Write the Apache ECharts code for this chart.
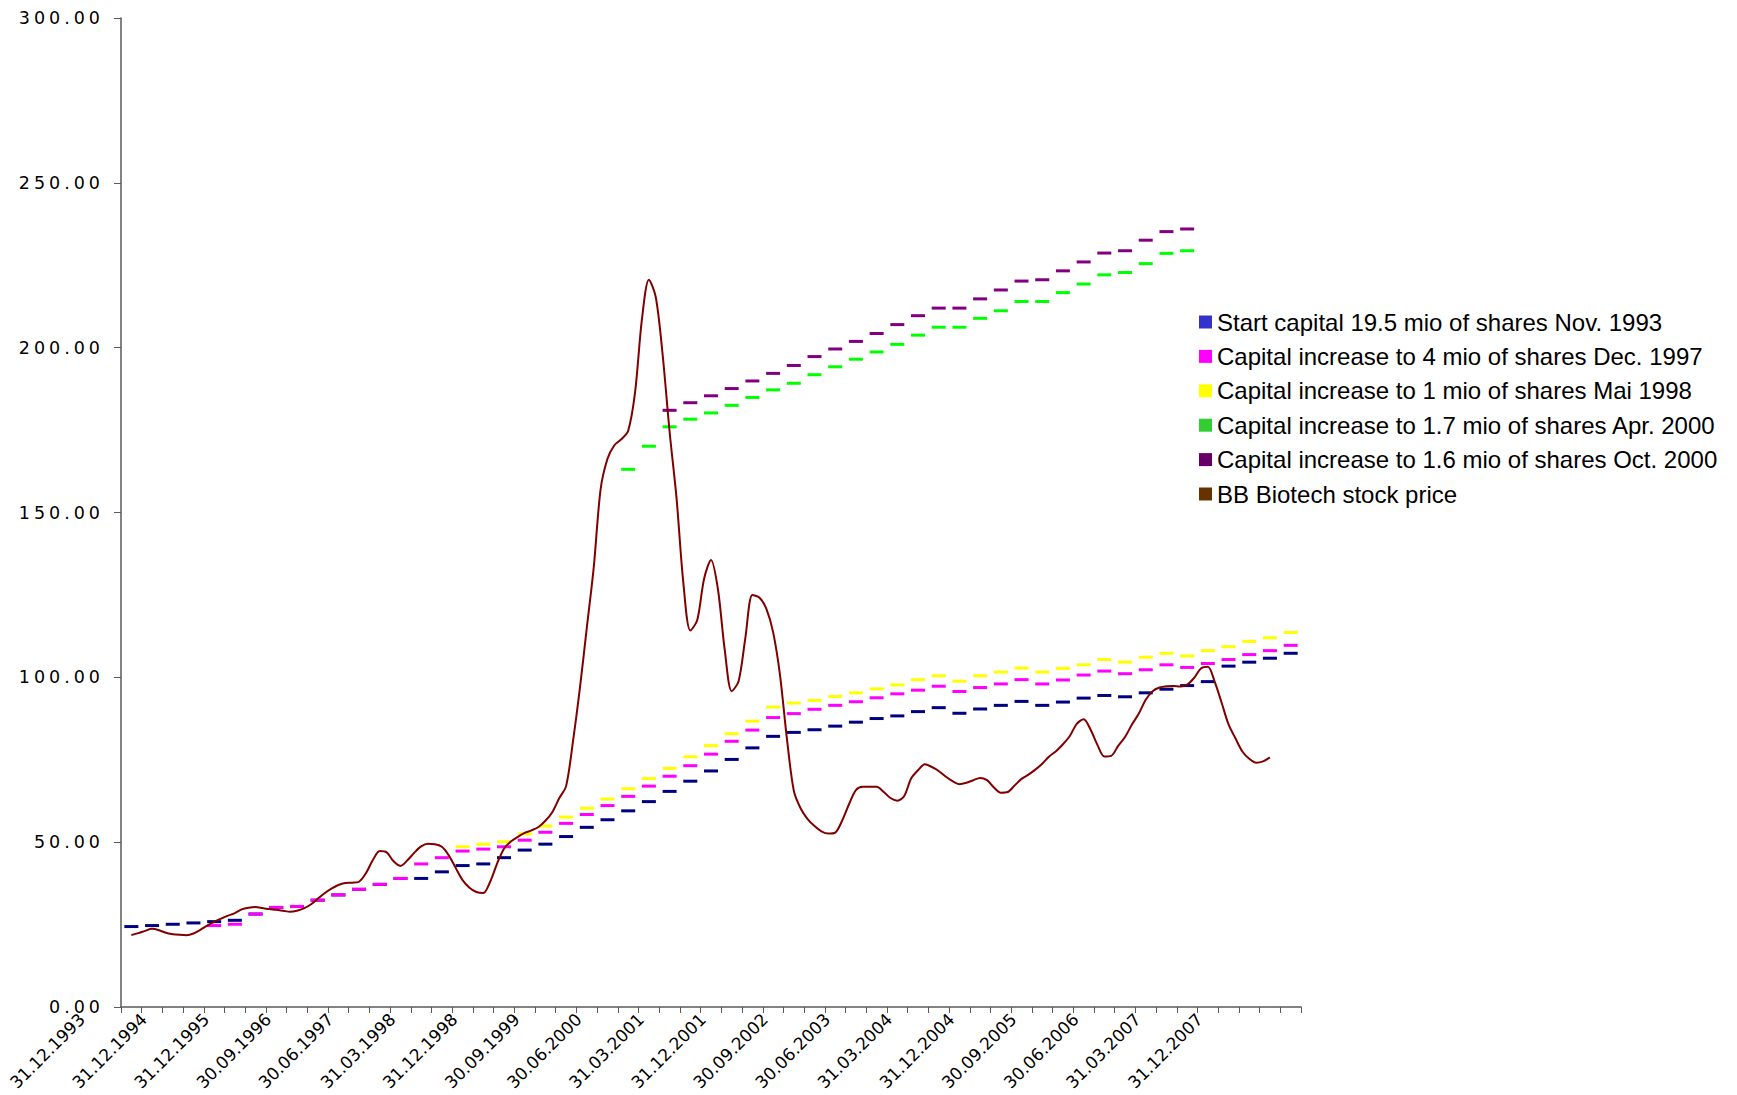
<!DOCTYPE html>
<html>
<head>
<meta charset="utf-8">
<title>BB Biotech</title>
<script src="https://cdn.jsdelivr.net/npm/echarts@6/dist/echarts.min.js"></script>
<style>
  html, body { margin: 0; padding: 0; background: #ffffff; overflow: hidden; }
  #chart { width: 1737px; height: 1095px; }
  /* value-axis numbers are set wide, like the rest of the axis text */
  #chart svg text[style*="17.5px"] { letter-spacing: 4px; }
</style>
</head>
<body>
<div id="chart"></div>
<script>
// Reporting dates (category axis)
const DATES = [
  '31.12.1993','30.04.1994','31.08.1994','31.12.1994','30.04.1995','31.08.1995',
  '31.12.1995','31.03.1996','30.06.1996','30.09.1996','31.12.1996','31.03.1997',
  '30.06.1997','30.09.1997','31.12.1997','31.03.1998','30.06.1998','30.09.1998',
  '31.12.1998','31.03.1999','30.06.1999','30.09.1999','31.12.1999','31.03.2000',
  '30.06.2000','30.09.2000','31.12.2000','31.03.2001','30.06.2001','30.09.2001',
  '31.12.2001','31.03.2002','30.06.2002','30.09.2002','31.12.2002','31.03.2003',
  '30.06.2003','30.09.2003','31.12.2003','31.03.2004','30.06.2004','30.09.2004',
  '31.12.2004','31.03.2005','30.06.2005','30.09.2005','31.12.2005','31.03.2006',
  '30.06.2006','30.09.2006','31.12.2006','31.03.2007','30.06.2007','30.09.2007',
  '31.12.2007','31.03.2008','30.06.2008'
];

const SERIES_NAMES = [
  'Start capital 19.5 mio of shares Nov. 1993',
  'Capital increase to 4 mio of shares Dec. 1997',
  'Capital increase to 1 mio of shares Mai 1998',
  'Capital increase to 1.7 mio of shares Apr. 2000',
  'Capital increase to 1.6 mio of shares Oct. 2000',
  'BB Biotech stock price'
];

// Value per share for each capital tranche, one value per reporting date
const START_CAPITAL = [
  24.4, 24.7, 25.1, 25.5, 25.9, 26.3, 28.2, 30.2, 30.5, 32.4,
  34.0, 35.7, 37.2, 39.0, 39.0, 41.0, 42.9, 43.4, 45.3, 47.6,
  49.4, 51.7, 54.5, 56.8, 59.5, 62.3, 65.4, 68.5, 71.6, 75.1,
  78.6, 82.1, 83.3, 84.1, 85.2, 86.4, 87.5, 88.3, 89.6, 90.8,
  89.1, 90.4, 91.5, 92.7, 91.5, 92.5, 93.7, 94.5, 94.1, 95.3,
  96.4, 97.5, 98.7, 103.4, 104.6, 105.8, 107.3
];
const INCREASE_DEC_1997 = [
  null, null, null, null, 24.7, 25.1, 28.2, 30.2, 30.5, 32.4,
  34.0, 35.7, 37.2, 39.0, 43.4, 45.3, 47.3, 47.9, 48.6, 50.6,
  53.0, 55.7, 58.4, 61.1, 63.9, 67.0, 70.0, 73.2, 76.7, 80.6,
  84.0, 87.8, 89.0, 90.3, 91.5, 92.6, 93.8, 95.0, 96.1, 97.3,
  95.7, 96.9, 98.0, 99.3, 98.0, 99.2, 100.7, 101.9, 101.1, 102.3,
  103.8, 103.0, 104.2, 105.4, 106.9, 108.1, 109.7
];
const INCREASE_MAI_1998 = [
  null, null, null, null, null, null, null, null, null, null,
  null, null, null, null, null, null, 48.6, 49.4, 50.1, 52.5,
  54.9, 57.6, 60.3, 63.1, 66.2, 69.3, 72.4, 75.9, 79.3, 82.9,
  86.7, 91.0, 92.2, 93.0, 94.2, 95.3, 96.5, 97.7, 99.3, 100.5,
  98.8, 100.5, 101.6, 102.8, 101.6, 102.7, 103.8, 105.4, 104.6, 106.1,
  107.3, 106.5, 108.1, 109.3, 110.9, 112.0, 113.6
];
const INCREASE_APR_2000 = [
  null, null, null, null, null, null, null, null, null, null,
  null, null, null, null, null, null, null, null, null, null,
  null, null, null, null, 163.1, 170.1, 176.0, 178.3, 180.2, 182.5,
  184.9, 187.2, 189.2, 191.8, 194.2, 196.5, 198.7, 201.0, 203.8, 206.2,
  206.2, 208.9, 211.2, 214.0, 214.0, 216.7, 219.3, 222.1, 222.8, 225.5,
  228.6, 229.4, null, null, null, null, null
];
const INCREASE_OCT_2000 = [
  null, null, null, null, null, null, null, null, null, null,
  null, null, null, null, null, null, null, null, null, null,
  null, null, null, null, null, null, 181.0, 183.3, 185.4, 187.6,
  189.9, 192.2, 194.6, 197.3, 199.6, 201.9, 204.3, 207.0, 209.7, 212.0,
  212.0, 214.8, 217.5, 220.2, 220.6, 223.3, 226.0, 228.7, 229.4, 232.6,
  235.2, 236.0, null, null, null, null, null
];

// Monthly stock price, starting at the first reporting date
const STOCK_PRICE = [
  21.8, 22.4, 23.1, 23.7, 23.3, 22.5, 22.1, 21.9, 21.8, 22.3,
  23.4, 24.7, 25.8, 26.8, 27.7, 28.5, 29.6, 30.1, 30.3, 30.0,
  29.7, 29.5, 29.2, 28.9, 29.2, 29.9, 31.1, 32.8, 34.5, 35.9,
  37.0, 37.6, 37.7, 38.0, 40.6, 44.6, 47.3, 46.9, 44.2, 42.8,
  44.5, 46.8, 48.7, 49.5, 49.4, 48.6, 46.0, 42.2, 38.5, 36.2,
  34.9, 34.6, 38.0, 43.5, 48.0, 50.2, 51.6, 52.8, 53.6, 54.6,
  56.5, 59.1, 63.3, 67.0, 80.6, 96.7, 115.0, 133.2, 157.0, 166.3,
  170.4, 172.2, 174.8, 186.5, 208.8, 220.6, 215.3, 197.7, 174.5, 154.5,
  128.5, 114.2, 117.3, 129.9, 135.6, 126.8, 108.2, 95.8, 98.8, 112.3,
  125.0, 124.2, 120.9, 113.7, 100.7, 81.4, 65.6, 60.2, 57.0, 54.9,
  53.3, 52.6, 52.9, 56.5, 61.5, 65.8, 66.8, 66.8, 66.8, 65.3,
  63.4, 62.6, 64.0, 69.3, 71.8, 73.6, 72.8, 71.6, 69.9, 68.5,
  67.6, 68.0, 68.8, 69.5, 68.8, 66.6, 65.0, 65.2, 67.2, 69.2,
  70.5, 72.0, 73.8, 76.0, 77.6, 79.7, 82.2, 85.9, 87.3, 84.2,
  79.5, 76.0, 76.2, 79.2, 81.9, 85.7, 89.0, 93.2, 95.8, 96.9,
  97.3, 97.4, 97.2, 97.8, 99.8, 102.7, 103.2, 98.6, 92.3, 85.7,
  81.5, 77.5, 75.3, 74.1, 74.5, 75.7
];

const Y_MIN = 0;
const Y_MAX = 300;
const Y_STEP = 50;

// The price line lives on a hidden linear axis measured in reporting periods:
// the first price sits on the centre of the first period, three months per period.
const PRICE_START = 0.5;
const MONTHS_PER_PERIOD = 3;

const TRANCHES = [
  { name: SERIES_NAMES[0], data: START_CAPITAL,     color: '#000080', legend: '#3333cc' },
  { name: SERIES_NAMES[1], data: INCREASE_DEC_1997, color: '#ff00ff', legend: '#ff00ff' },
  { name: SERIES_NAMES[2], data: INCREASE_MAI_1998, color: '#ffff00', legend: '#ffff00' },
  { name: SERIES_NAMES[3], data: INCREASE_APR_2000, color: '#00ff00', legend: '#33cc33' },
  { name: SERIES_NAMES[4], data: INCREASE_OCT_2000, color: '#800080', legend: '#660066' }
];
const PRICE_COLOR = '#800000';
const PRICE_LEGEND = '#663300';

const AXIS_COLOR = '#5a5a5a';

const chart = echarts.init(document.getElementById('chart'), null, { renderer: 'svg' });

const series = TRANCHES.map(t => ({
  type: 'scatter',
  name: t.name,
  xAxisIndex: 0,
  yAxisIndex: 0,
  data: t.data,
  symbol: 'rect',
  symbolSize: [14, 3],
  itemStyle: { color: t.color, opacity: 1 },
  emphasis: { disabled: true },
  silent: true
}));

series.push({
  type: 'line',
  name: SERIES_NAMES[5],
  xAxisIndex: 1,
  yAxisIndex: 0,
  data: STOCK_PRICE.map((v, i) => [PRICE_START + i / MONTHS_PER_PERIOD, v]),
  showSymbol: false,
  symbol: 'none',
  smooth: 0.3,
  lineStyle: { color: PRICE_COLOR, width: 2 },
  itemStyle: { color: PRICE_COLOR },
  emphasis: { disabled: true },
  silent: true
});

chart.setOption({
  animation: false,
  backgroundColor: '#ffffff',
  grid: { left: 121, right: 436, top: 18, bottom: 88, containLabel: false, outerBoundsMode: 'none' },
  legend: {
    orient: 'vertical',
    left: 1194,
    top: 305,
    itemWidth: 13,
    itemHeight: 13,
    itemGap: 10.4,
    icon: 'rect',
    selectedMode: false,
    textStyle: { fontFamily: 'Liberation Sans, Arial, sans-serif', fontSize: 24, color: '#000000' },
    data: SERIES_NAMES.map((name, i) => ({
      name,
      icon: 'rect',
      itemStyle: { color: i < TRANCHES.length ? TRANCHES[i].legend : PRICE_LEGEND, borderWidth: 0 }
    }))
  },
  xAxis: [
    {
      type: 'category',
      data: DATES,
      boundaryGap: true,
      axisLine: { show: true, lineStyle: { color: AXIS_COLOR, width: 1.5 } },
      axisTick: { show: true, interval: 0, length: 6, lineStyle: { color: AXIS_COLOR, width: 1 } },
      axisLabel: {
        interval: 2,
        rotate: 45,
        margin: -40,
        padding: [0, 70, 0, 0],
        fontFamily: 'DejaVu Sans',
        fontSize: 17,
        color: '#000000',
        hideOverlap: false
      },
      splitLine: { show: false }
    },
    {
      type: 'value',
      min: 0,
      max: DATES.length,
      show: false,
      splitLine: { show: false }
    }
  ],
  yAxis: {
    type: 'value',
    min: Y_MIN,
    max: Y_MAX,
    interval: Y_STEP,
    axisLine: { show: true, lineStyle: { color: AXIS_COLOR, width: 1.5 } },
    axisTick: { show: true, length: 7, lineStyle: { color: AXIS_COLOR, width: 1 } },
    axisLabel: {
      margin: 17,
      fontFamily: 'DejaVu Sans',
      fontSize: 17.5,
      color: '#000000',
      formatter: v => v.toFixed(2)
    },
    splitLine: { show: false }
  },
  series
});
</script>
</body>
</html>
